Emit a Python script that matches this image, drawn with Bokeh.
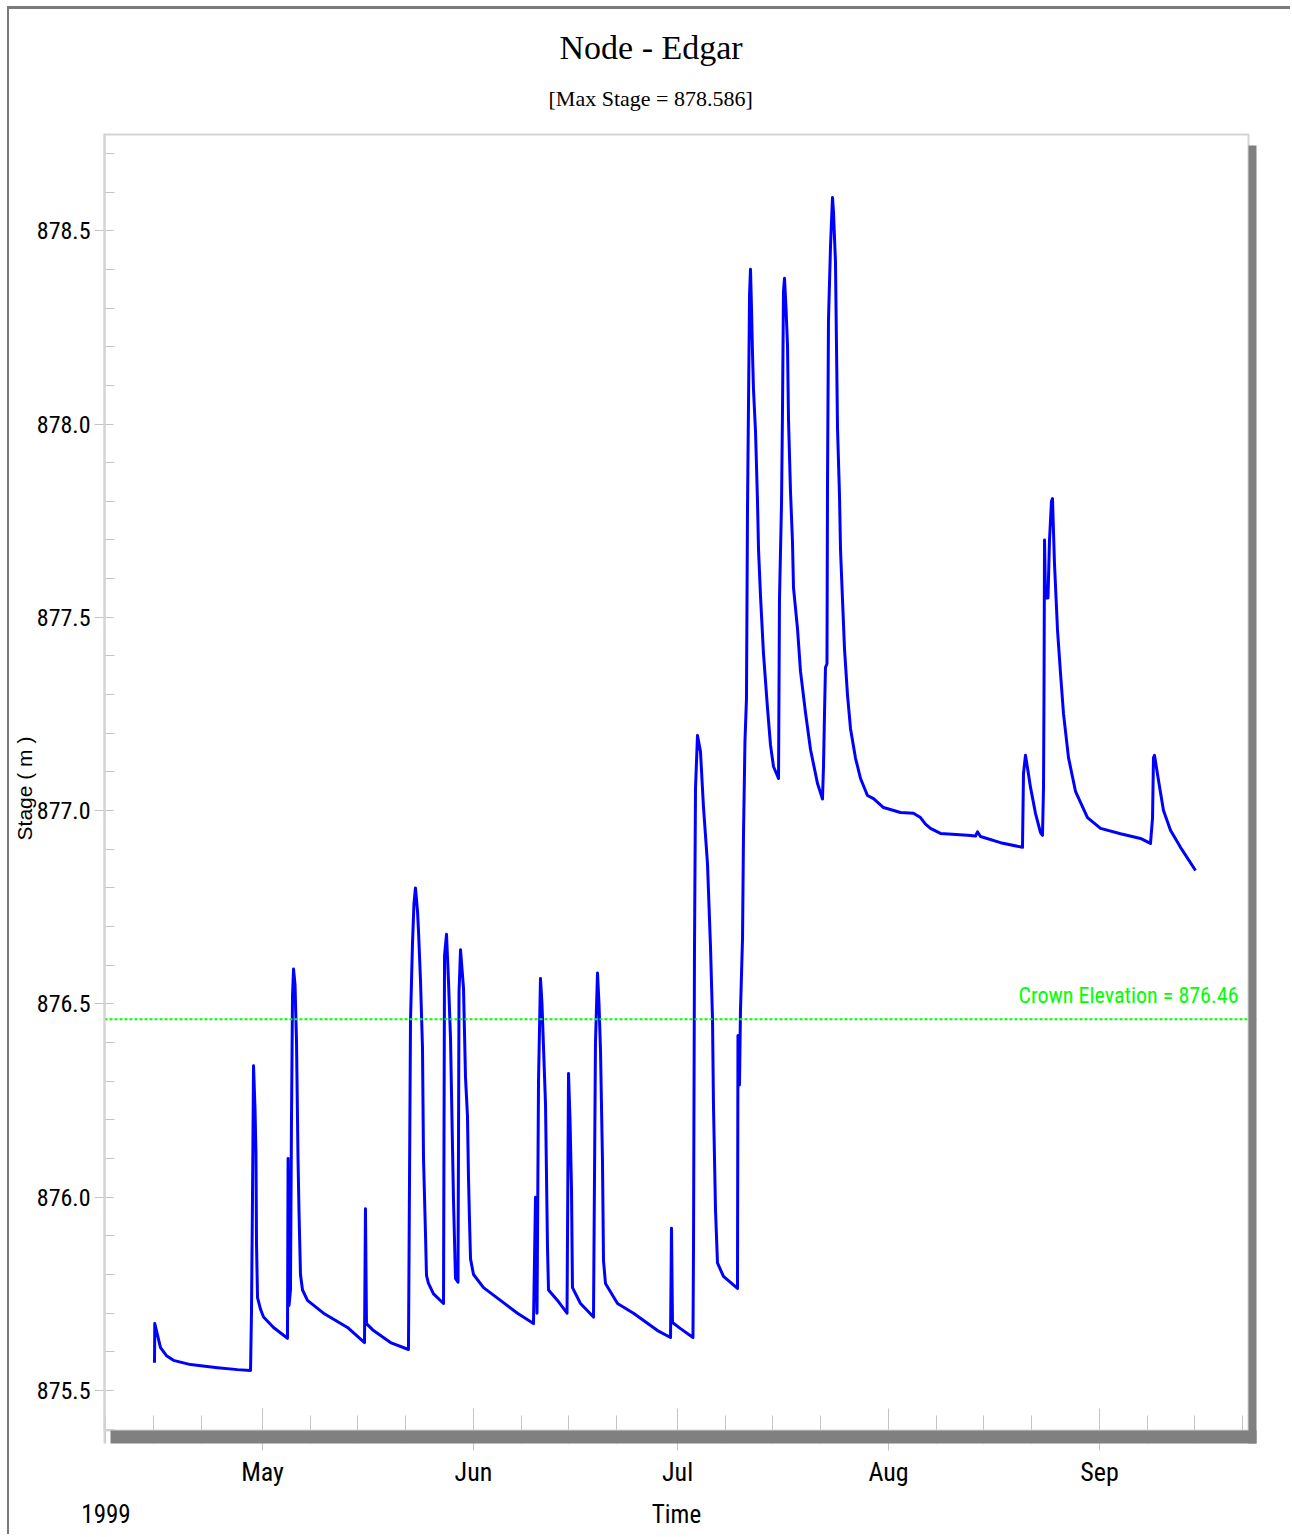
import numpy as np
import pandas as pd
from bokeh.plotting import figure
from bokeh.models import (ColumnDataSource, Range1d, FixedTicker, DatetimeTickFormatter,
                          PrintfTickFormatter, CustomJSTickFormatter, LinearAxis,
                          Span, Label, Title)
from bokeh.embed import file_html
from bokeh.resources import INLINE

# ---------------------------------------------------------------- data
# Water stage at node "Edgar", 1999 season.
# days: time in days after 1999-05-01 00:00 (negative values fall in April)
days = [-15.87, -15.83, -14.99, -14.11, -13.08, -10.58, -6.61, -3.67, -1.76, -1.62,
        -1.47, -1.32, -1.10, -0.96, -0.88, -0.73, -0.29, 0.15, 1.62, 3.67,
        3.76, 3.90, 4.11, 4.26, 4.41, 4.56, 4.78, 5.00, 5.22, 5.36,
        5.58, 5.88, 6.61, 8.96, 12.49, 14.99, 15.13, 15.28, 16.31, 18.81,
        21.45, 21.60, 21.75, 22.04, 22.26, 22.48, 22.78, 22.92, 23.22, 23.51,
        23.66, 23.95, 24.10, 24.39, 25.13, 26.60, 26.75, 27.04, 27.33, 27.63,
        27.92, 28.07, 28.36, 28.73, 28.88, 29.10, 29.54, 29.83, 30.12, 30.27,
        30.42, 30.57, 31.01, 32.48, 34.97, 37.47, 39.82, 40.12, 40.34, 40.56,
        40.85, 41.07, 41.29, 41.59, 41.88, 42.03, 43.35, 44.75, 44.97, 45.19,
        45.41, 45.55, 46.73, 48.64, 48.93, 49.23, 49.45, 49.67, 49.96, 50.11,
        50.40, 52.17, 54.52, 58.05, 59.96, 60.10, 60.25, 61.43, 63.26, 63.34,
        63.48, 63.63, 63.92, 64.36, 64.80, 65.39, 65.83, 66.13, 66.27, 66.57,
        66.86, 67.74, 69.80, 69.87, 70.09, 70.24, 70.54, 70.68, 70.90, 71.12,
        71.27, 71.57, 71.71, 71.86, 72.01, 72.15, 72.45, 72.74, 72.89, 73.18,
        73.62, 74.21, 74.65, 75.09, 75.83, 75.97, 76.27, 76.41, 76.56, 76.71,
        76.93, 77.15, 77.30, 77.59, 77.88, 78.03, 78.62, 79.06, 79.79, 80.53,
        81.56, 82.29, 82.44, 82.59, 82.73, 82.95, 83.03, 83.17, 83.47, 83.76,
        83.91, 84.20, 84.35, 84.50, 84.79, 84.94, 85.23, 85.53, 85.97, 86.41,
        87.14, 87.88, 88.90, 89.79, 91.26, 93.75, 95.66, 96.69, 97.43, 98.16,
        99.63, 103.60, 104.78, 105.07, 105.51, 108.45, 111.68, 111.83, 112.12, 112.42,
        112.86, 113.59, 114.33, 114.62, 114.77, 114.84, 114.92, 115.06, 115.43, 115.65,
        115.94, 116.09, 116.38, 116.83, 117.27, 117.71, 118.44, 119.47, 121.23, 123.15,
        126.08, 129.02, 130.49, 130.79, 130.93, 131.08, 131.67, 132.40, 133.43, 134.90,
        137.11]

stage = [875.572, 875.673, 875.611, 875.590, 875.578, 875.567, 875.559, 875.554, 875.552, 875.700,
         876.000, 876.340, 876.230, 876.110, 875.880, 875.740, 875.710, 875.690, 875.663, 875.635,
         876.100, 875.720, 875.760, 876.200, 876.520, 876.590, 876.550, 876.400, 876.100, 875.966,
         875.800, 875.760, 875.733, 875.700, 875.663, 875.624, 875.970, 875.673, 875.655, 875.624,
         875.606, 876.035, 876.457, 876.656, 876.760, 876.800, 876.740, 876.690, 876.560, 876.387,
         876.100, 875.906, 875.797, 875.777, 875.750, 875.725, 876.625, 876.680, 876.560, 876.410,
         876.130, 875.990, 875.790, 875.780, 876.530, 876.640, 876.540, 876.310, 876.210, 876.050,
         875.940, 875.840, 875.800, 875.766, 875.733, 875.700, 875.673, 876.000, 875.700, 876.300,
         876.566, 876.500, 876.390, 876.240, 875.870, 875.760, 875.733, 875.700, 876.320, 876.200,
         876.020, 875.766, 875.725, 875.690, 876.400, 876.580, 876.500, 876.380, 876.095, 875.836,
         875.777, 875.725, 875.700, 875.655, 875.637, 875.920, 875.676, 875.660, 875.637, 875.880,
         876.636, 877.057, 877.194, 877.153, 877.010, 876.863, 876.650, 876.460, 876.240, 875.966,
         875.830, 875.795, 875.764, 876.418, 876.290, 876.483, 876.670, 876.935, 877.180, 877.290,
         877.776, 878.333, 878.400, 878.300, 878.180, 878.090, 877.980, 877.800, 877.675, 877.556,
         877.406, 877.265, 877.170, 877.114, 877.083, 877.546, 877.794, 878.030, 878.343, 878.377,
         878.300, 878.203, 878.009, 877.825, 877.696, 877.577, 877.470, 877.360, 877.254, 877.158,
         877.070, 877.030, 877.114, 877.254, 877.370, 877.380, 877.850, 878.268, 878.460, 878.586,
         878.547, 878.418, 878.200, 877.988, 877.815, 877.675, 877.546, 877.417, 877.298, 877.212,
         877.136, 877.083, 877.039, 877.031, 877.008, 876.995, 876.993, 876.982, 876.965, 876.954,
         876.941, 876.936, 876.934, 876.945, 876.933, 876.917, 876.905, 877.096, 877.143, 877.110,
         877.060, 876.993, 876.943, 876.936, 877.060, 877.293, 877.700, 877.550, 877.550, 877.700,
         877.800, 877.807, 877.640, 877.466, 877.355, 877.250, 877.137, 877.050, 876.982, 876.954,
         876.940, 876.928, 876.915, 876.980, 877.137, 877.143, 877.078, 877.000, 876.949, 876.905,
         876.845]

title_text = "Node - Edgar"
max_stage = 878.586
crown_elevation = 876.46
year_text = "1999"
time_text = "Time"
stage_label = "Stage ( m )"

month_starts = ["1999-05-01", "1999-06-01", "1999-07-01", "1999-08-01", "1999-09-01"]
minor_months = ["1999-04", "1999-05", "1999-06", "1999-07", "1999-08", "1999-09"]
minor_month_days = [1, 8, 15, 22]
stage_ticks = [875.5, 876.0, 876.5, 877.0, 877.5, 878.0, 878.5]
stage_minor_ticks = [875.4, 875.6, 875.7, 875.8, 875.9, 876.1, 876.2, 876.3, 876.4,
                     876.6, 876.7, 876.8, 876.9, 877.1, 877.2, 877.3, 877.4, 877.6,
                     877.7, 877.8, 877.9, 878.1, 878.2, 878.3, 878.4, 878.6, 878.7]

# ---------------------------------------------------------------- page geometry
origin = pd.Timestamp("1999-05-01")
times = origin + pd.to_timedelta(days, unit="D")

OFF = 9                     # page offset of the figure (margin + window border)
W, H = 1292 - OFF, 1537 - OFF
X_MAY1, PX_PER_DAY = 262, 6.805       # page x of 1 May, pixels per day
Y_REF, PX_PER_M = 1390, 386.6         # page y of 875.5 m, pixels per metre
F_LEFT, F_RIGHT, F_TOP, F_BOTTOM = 104, 1256, 133, 1443   # frame incl. drop shadow
BOX_RIGHT, BOX_BOTTOM = 1248, 1430                         # visible plot box


def day_at(px):
    return (px - X_MAY1) / PX_PER_DAY


def when(d):
    return origin + pd.Timedelta(days=d)


def stage_at(py):
    return 875.5 + (Y_REF - py) / PX_PER_M


def ms(ts):
    return pd.Timestamp(ts).value / 1e6


src = ColumnDataSource(dict(t=times, stage=stage))

p = figure(width=W, height=H, x_axis_type="datetime", title=None,
           x_range=Range1d(when(day_at(F_LEFT)), when(day_at(F_RIGHT))),
           y_range=Range1d(stage_at(F_BOTTOM), stage_at(F_TOP)),
           output_backend="svg", toolbar_location=None,
           min_border_left=F_LEFT - OFF, min_border_right=1292 - F_RIGHT,
           min_border_top=F_TOP - OFF, min_border_bottom=1537 - F_BOTTOM)
p.styles = {"margin-top": "6px", "margin-left": "7px",
            "border-top": "3px solid #7a7a7a", "border-left": "2px solid #7a7a7a"}
p.background_fill_color = "white"
p.border_fill_color = "white"
p.outline_line_color = None
p.xgrid.visible = False
p.ygrid.visible = False

tick_color = "#c4c4c4"
frame_color = "#d4d4d4"
sans = "Roboto Condensed"

# y axis
ya = p.yaxis[0]
ya.ticker = FixedTicker(ticks=stage_ticks, minor_ticks=stage_minor_ticks)
ya.formatter = PrintfTickFormatter(format="%.1f")
ya.axis_line_color = frame_color
ya.axis_line_width = 2
ya.major_tick_line_color = tick_color
ya.minor_tick_line_color = tick_color
ya.major_tick_in = 9
ya.major_tick_out = 10
ya.minor_tick_in = 10
ya.minor_tick_out = 0
ya.major_label_standoff = 4
ya.major_label_text_font = sans
ya.major_label_text_font_size = "24px"
ya.major_label_text_color = "black"
ya.axis_label = stage_label
ya.axis_label_text_font = "Liberation Sans"
ya.axis_label_text_font_style = "normal"
ya.axis_label_text_font_size = "21px"
ya.axis_label_text_color = "black"
ya.axis_label_standoff = -2

# x axis: months
xa = p.xaxis[0]
xa.ticker = FixedTicker(ticks=[ms(m) for m in month_starts],
                        minor_ticks=[ms(f"{m}-{d:02d}") for m in minor_months for d in minor_month_days])
xa.formatter = DatetimeTickFormatter(microseconds="%b", milliseconds="%b", seconds="%b",
                                     minsec="%b", minutes="%b", hourmin="%b", hours="%b",
                                     days="%b", months="%b", years="%b")
xa.axis_line_color = None
xa.major_tick_line_color = tick_color
xa.minor_tick_line_color = tick_color
xa.major_tick_in = F_BOTTOM - 1408
xa.major_tick_out = 7
xa.minor_tick_in = F_BOTTOM - 1415
xa.minor_tick_out = 0
xa.major_label_standoff = 6
xa.major_label_text_font = sans
xa.major_label_text_font_size = "26px"
xa.major_label_text_color = "black"

# second row under the months: year at the left, axis name in the middle
row_ticks = [ms("1999-04-08"), ms(when((day_at(F_LEFT) + day_at(BOX_RIGHT)) / 2))]
xa2 = LinearAxis(ticker=FixedTicker(ticks=row_ticks),
                 formatter=CustomJSTickFormatter(args=dict(labels=[year_text, time_text]),
                                                 code="return labels[index]"))
xa2.axis_line_color = None
xa2.major_tick_line_color = None
xa2.minor_tick_line_color = None
xa2.major_tick_in = 0
xa2.major_tick_out = 0
xa2.major_label_standoff = 10
xa2.major_label_text_font = sans
xa2.major_label_text_font_size = "25px"
xa2.major_label_text_color = "black"
p.add_layout(xa2, "below")

# titles (the one added first sits closest to the plot); left-aligned with an
# offset from the frame's left edge so that both are centred near x = 650
p.add_layout(Title(text=f"[Max Stage = {max_stage}]", align="left", offset=548 - F_LEFT,
                   text_font="Liberation Serif", text_font_size="22px",
                   text_font_style="normal", text_color="black", standoff=45), "above")
p.add_layout(Title(text=title_text, align="left", offset=559 - F_LEFT,
                   text_font="Liberation Serif", text_font_size="34px",
                   text_font_style="normal", text_color="black", standoff=-9), "above")

# crown elevation reference
p.add_layout(Span(location=crown_elevation, dimension="width", line_color="#00ff00",
                  line_width=2, line_dash="3 2"))
p.add_layout(Label(x=1238 - F_LEFT, x_units="screen", y=crown_elevation, y_units="data",
                   y_offset=24, text=f"Crown Elevation = {crown_elevation}",
                   text_align="right", text_baseline="alphabetic",
                   text_color="#00ff00", text_font=sans, text_font_size="22px"))

# stage hydrograph
p.line(x="t", y="stage", source=src, line_color="#0000ff", line_width=3, line_join="round")

# plot box border and its drop shadow
x0, x1 = day_at(F_LEFT), day_at(F_RIGHT)
p.quad(left=[when(x0)], right=[when(day_at(BOX_RIGHT))],
       bottom=[stage_at(BOX_BOTTOM)], top=[stage_at(F_TOP + 1)],
       fill_alpha=0, line_color=frame_color, line_width=2, level="overlay")
p.quad(left=[when(day_at(BOX_RIGHT)), when(day_at(110))],
       right=[when(x1), when(x1)],
       bottom=[stage_at(F_BOTTOM), stage_at(F_BOTTOM)],
       top=[stage_at(145), stage_at(BOX_BOTTOM)],
       fill_color="#808080", line_alpha=0, level="overlay")

open("out.html", "w").write(file_html(p, INLINE))
